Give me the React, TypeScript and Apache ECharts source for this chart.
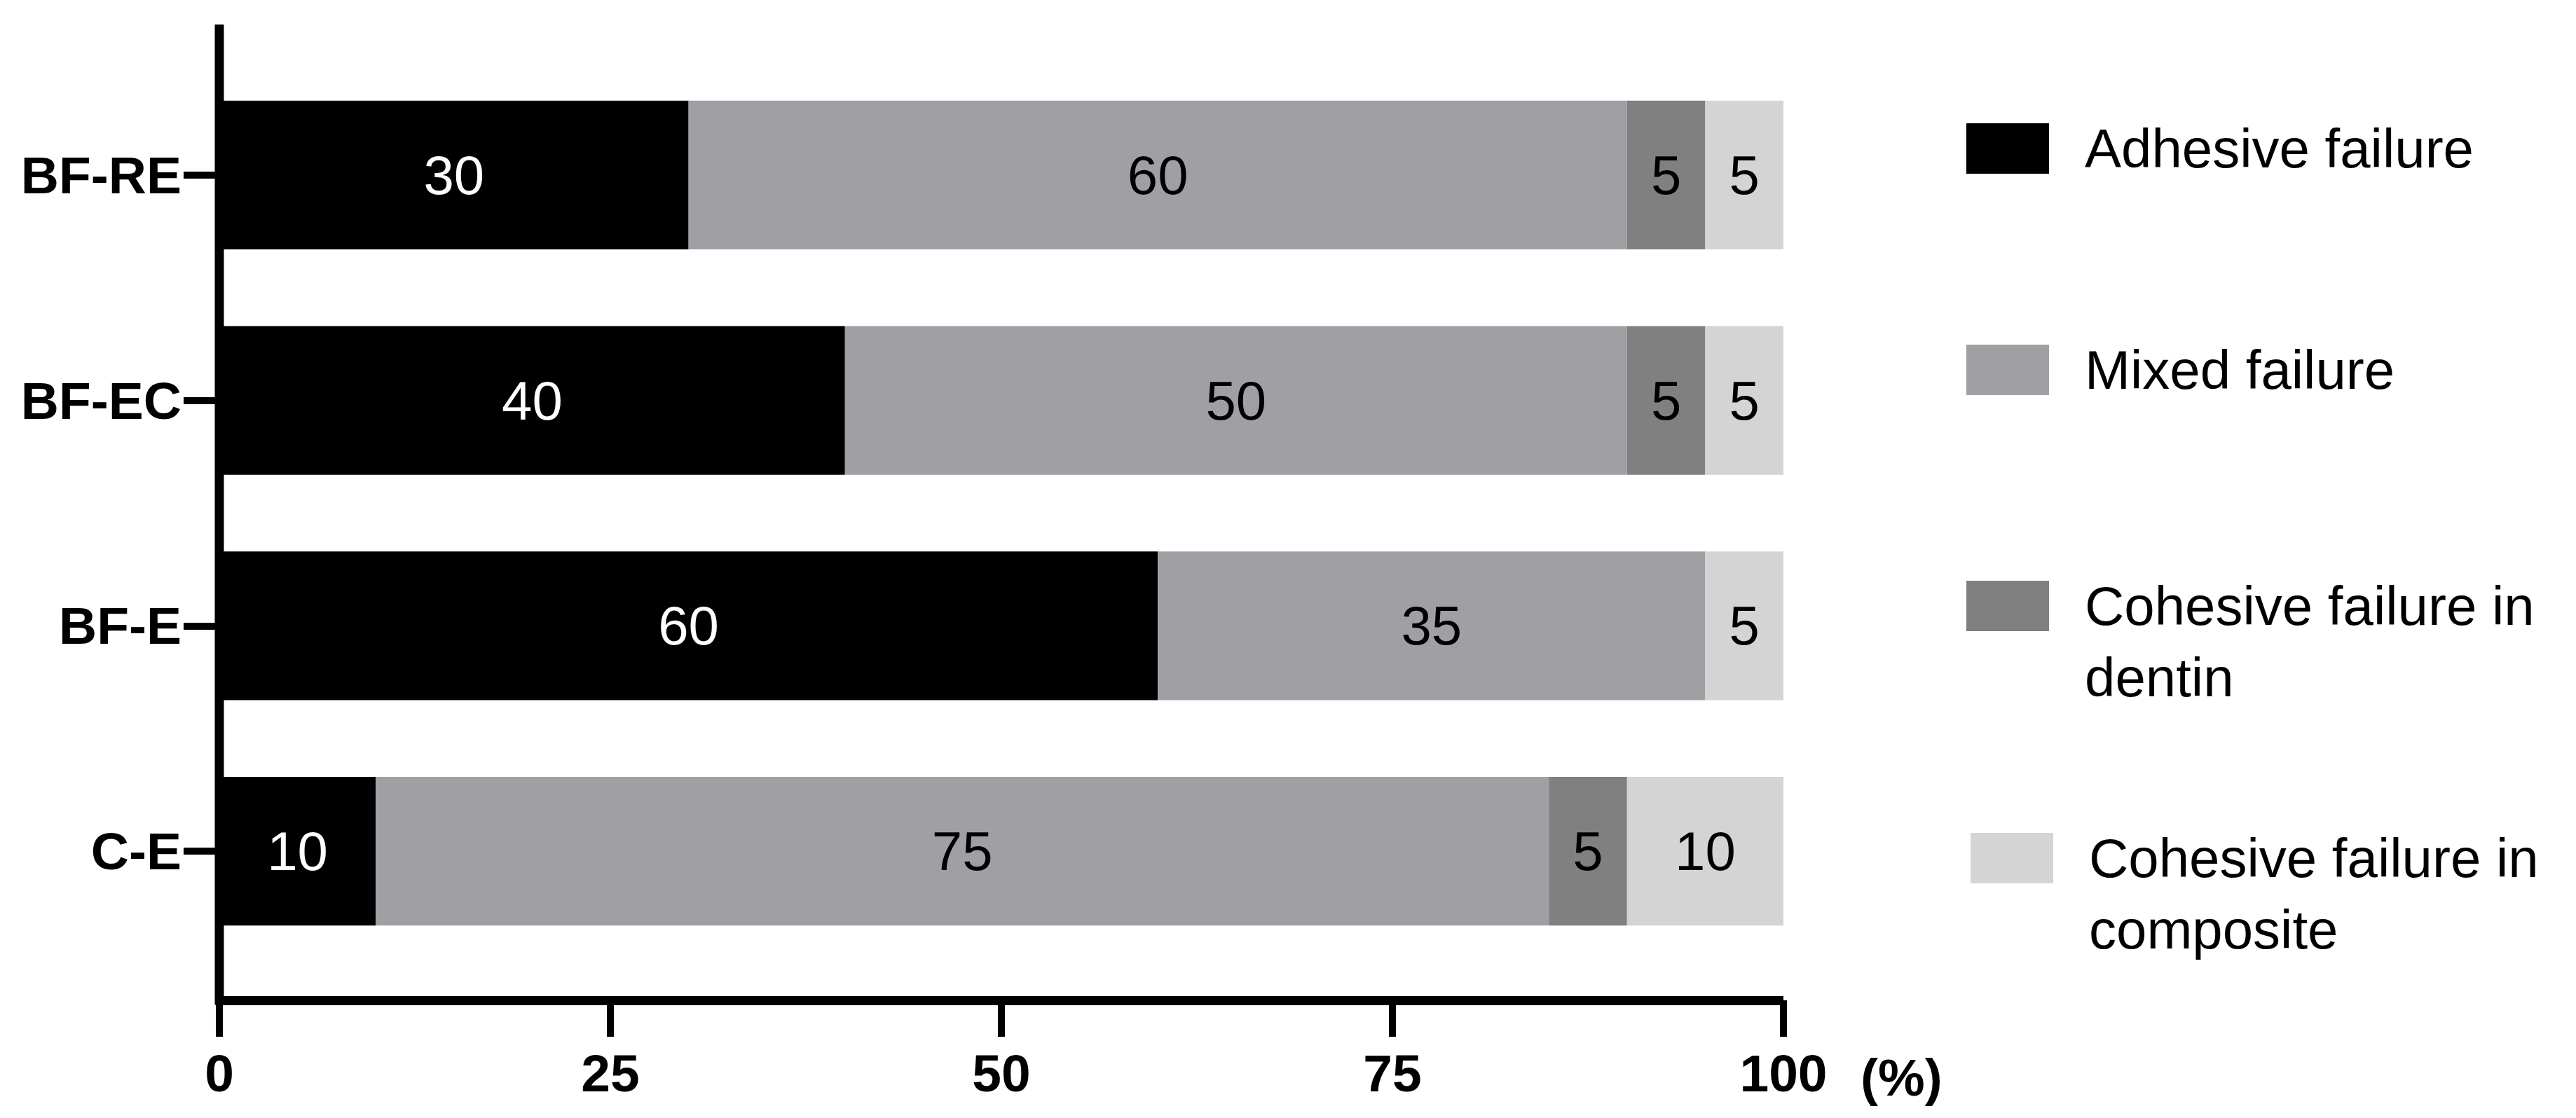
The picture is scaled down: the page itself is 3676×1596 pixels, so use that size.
import React, { useEffect, useRef } from 'react';
import * as echarts from 'echarts';

const categories = ['BF-RE', 'BF-EC', 'BF-E', 'C-E'];
const adhesive = [30, 40, 60, 10];
const mixed = [60, 50, 35, 75];
const cohesiveDentin = [5, 5, 0, 5];
const cohesiveComposite = [5, 5, 5, 10];
const xTicks = [0, 25, 50, 75, 100];
const seriesNames = ['Adhesive failure', 'Mixed failure', 'Cohesive failure in dentin', 'Cohesive failure in composite'];
const legendLines = [['Adhesive failure'], ['Mixed failure'], ['Cohesive failure in', 'dentin'], ['Cohesive failure in', 'composite']];
const seriesColors = ['#000000', '#a0a0a4', '#808080', '#d4d4d4'];
const labelColors = ['#ffffff', '#000000', '#000000', '#000000'];
const xUnit = '(%)';

const W = 3676;
const H = 1596;
const FONT = '"Liberation Sans", Arial, Helvetica, sans-serif';

export default function App() {
  const ref = useRef<HTMLDivElement>(null);
  useEffect(() => {
    if (!ref.current) return;
    const chart = echarts.init(ref.current, undefined, { renderer: 'svg' });
    const gridLeft = 313;
    const gridRightX = 2545;
    const gridTop = 89;
    const gridBottomY = 1376;
    const xOffset = 52;
    const axisW = 13;
    const axisY = gridBottomY + xOffset;
    const values = [adhesive, mixed, cohesiveDentin, cohesiveComposite];

    const iconTops = [176, 492, 829, 1189];
    const iconLefts = [2806, 2806, 2806, 2812];
    const itemH = 72;
    const lh = 102;
    const legends = seriesNames.map((name, i) => {
      const lines = legendLines[i];
      // pad with empty lines at top so that the first line is centred on the icon
      const padded = lines.length > 1 ? [...Array(lines.length - 1).fill(''), ...lines] : lines;
      const textBoxH = padded.length * lh;
      const offsetAbove = Math.max(0, textBoxH / 2 - itemH / 2);
      return {
        data: [name],
        orient: 'vertical',
        left: iconLefts[i],
        top: iconTops[i] - offsetAbove,
        padding: 0,
        itemWidth: 118,
        itemHeight: itemH,
        icon: 'rect',
        selectedMode: false,
        formatter: () => padded.join('\n'),
        textStyle: {
          fontSize: 78,
          lineHeight: lh,
          color: '#000',
          fontFamily: FONT,
          padding: [0, 0, 0, 46],
        },
      };
    });

    chart.setOption({
      animation: false,
      backgroundColor: '#ffffff',
      grid: {
        left: gridLeft,
        right: W - gridRightX,
        top: gridTop,
        bottom: H - gridBottomY,
        containLabel: false,
      },
      legend: legends,
      xAxis: {
        type: 'value',
        min: 0,
        max: 100,
        interval: 25,
        offset: xOffset,
        splitLine: { show: false },
        axisLine: { show: true, lineStyle: { color: '#000', width: axisW, cap: 'butt' } },
        axisTick: { show: true, length: 52, lineStyle: { color: '#000', width: 10 } },
        axisLabel: {
          margin: 66,
          fontSize: 75,
          fontWeight: 'bold',
          color: '#000',
          fontFamily: FONT,
          formatter: (v: number) => (xTicks.includes(v) ? String(v) : ''),
        },
      },
      yAxis: {
        type: 'category',
        data: categories,
        inverse: true,
        axisLine: { show: false },
        axisTick: { show: true, alignWithLabel: true, length: 51, lineStyle: { color: '#000', width: 10 } },
        axisLabel: {
          margin: 54,
          fontSize: 75,
          fontWeight: 'bold',
          color: '#000',
          fontFamily: FONT,
        },
        splitLine: { show: false },
      },
      series: seriesNames.map((name, i) => ({
        name,
        type: 'bar',
        stack: 'total',
        barCategoryGap: '34%',
        data: values[i],
        itemStyle: { color: seriesColors[i] },
        label: {
          show: true,
          position: 'inside',
          color: labelColors[i],
          fontSize: 78,
          fontFamily: FONT,
          formatter: (p: any) => (p.value ? String(p.value) : ''),
        },
      })),
      graphic: [
        {
          type: 'line',
          z: 100,
          shape: { x1: gridLeft, y1: 35, x2: gridLeft, y2: axisY + axisW / 2 },
          style: { stroke: '#000', lineWidth: axisW, lineCap: 'butt' },
        },
        {
          type: 'text',
          z: 100,
          x: gridRightX + 110,
          y: axisY + 110,
          style: {
            text: xUnit,
            fontSize: 75,
            fontWeight: 'bold',
            fontFamily: FONT,
            fill: '#000',
            align: 'left',
            verticalAlign: 'middle',
          },
        },
      ],
    });
    return () => chart.dispose();
  }, []);
  return <div ref={ref} style={{ position: 'fixed', left: 0, top: 0, width: W, height: H }} />;
}
